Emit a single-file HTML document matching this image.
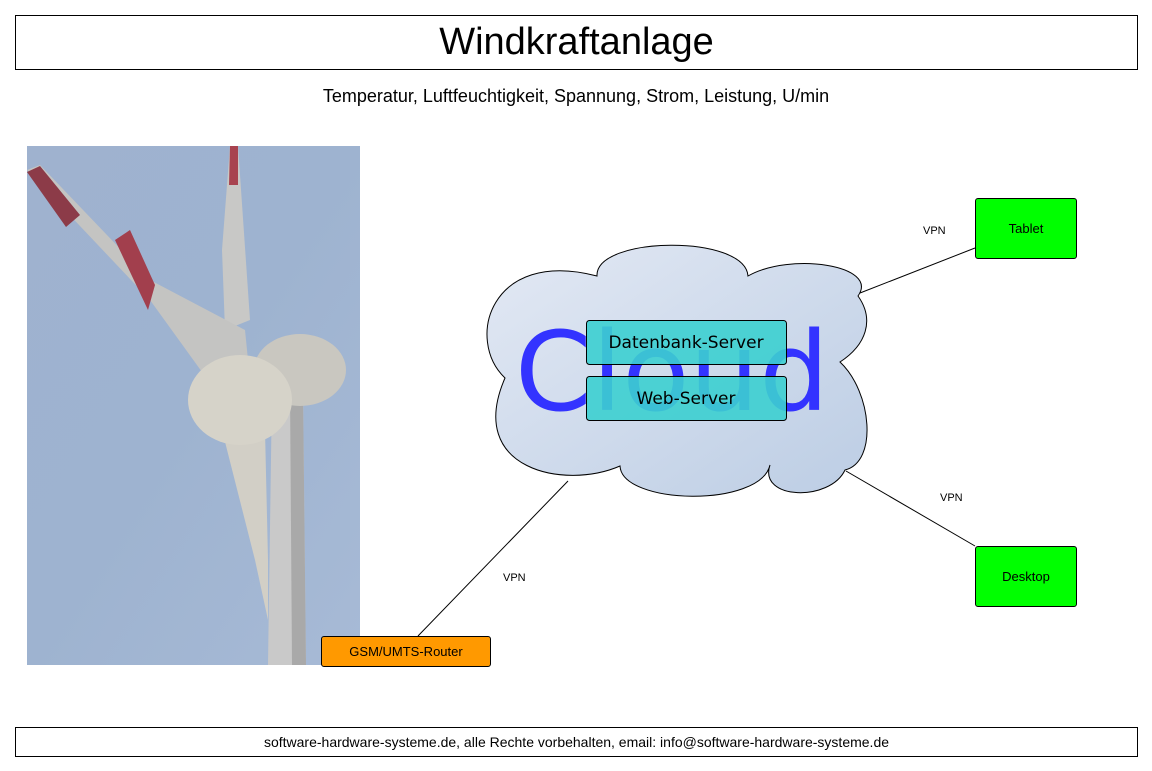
<!DOCTYPE html>
<html><head><meta charset="utf-8"><style>
body{margin:0;width:1152px;height:771px;background:#fff;position:relative;overflow:hidden;font-family:"Liberation Sans",sans-serif}
.b{position:absolute;box-sizing:border-box;border:1px solid #000;display:flex;align-items:center;justify-content:center;text-align:center}
.t{position:absolute;font-size:11px}
</style></head><body>
<div class="b" style="left:15px;top:15px;width:1123px;height:55px;font-size:38px">Windkraftanlage</div>
<div style="position:absolute;left:0;width:1152px;top:86px;text-align:center;font-size:18px">Temperatur, Luftfeuchtigkeit, Spannung, Strom, Leistung, U/min</div>
<svg style="position:absolute;left:0;top:0" width="1152" height="771">
<defs>
<linearGradient id="sky" x1="0" y1="0" x2="1" y2="1"><stop offset="0" stop-color="#9fb2cf"/><stop offset="0.5" stop-color="#9eb3d0"/><stop offset="1" stop-color="#a7bad6"/></linearGradient>
<linearGradient id="cl" x1="0" y1="0" x2="1" y2="1"><stop offset="0" stop-color="#e3e9f4"/><stop offset="1" stop-color="#bccde4"/></linearGradient>
</defs>
<rect x="27" y="146" width="333" height="519" fill="url(#sky)"/>
<path d="M272,390 L303,390 L306,665 L268,665 Z" fill="#c9c9c9"/>
<path d="M290,390 L303,390 L306,665 L292,665 Z" fill="#a9a9a9"/>
<path d="M222,430 L265,430 L268,560 L268,620 L255,560 Z" fill="#d2cfc6"/>
<path d="M230,146 L238,146 L250,320 L225,330 L222,250 Z" fill="#c8c8c6"/>
<path d="M230,146 L238,146 L238,185 L229,185 Z" fill="#a8434f"/>
<path d="M27,170 L40,165 L150,280 L245,330 L250,380 L215,390 L150,300 Z" fill="#c4c4c2"/>
<path d="M27,172 L40,166 L80,215 L66,227 Z" fill="#8c3b48"/>
<path d="M115,240 L130,230 L155,285 L148,310 Z" fill="#a23f4d"/>
<ellipse cx="300" cy="370" rx="46" ry="36" fill="#c9c7c0"/>
<ellipse cx="240" cy="400" rx="52" ry="45" fill="#d6d3c9"/>
<path d="M597,276 C595,236 745,234 748,276 C790,252 880,265 858,296 C875,320 866,345 840,362 C872,392 878,462 845,470 C830,502 758,500 770,465 C760,508 622,505 620,466 C565,490 465,470 505,378 C465,340 490,248 597,276 Z" fill="url(#cl)" stroke="#000" stroke-width="1"/>
<text x="672" y="410" font-family="DejaVu Sans,sans-serif" font-size="110" fill="#3333ff" text-anchor="middle">Cloud</text>
<rect x="586.5" y="320.5" width="200" height="44" rx="3" fill="#3ccfd0" fill-opacity="0.9" stroke="#000"/>
<rect x="586.5" y="376.5" width="200" height="44" rx="3" fill="#3ccfd0" fill-opacity="0.9" stroke="#000"/>
<text x="686" y="348" font-family="DejaVu Sans,sans-serif" font-size="17" text-anchor="middle">Datenbank-Server</text>
<text x="686" y="404" font-family="DejaVu Sans,sans-serif" font-size="17" text-anchor="middle">Web-Server</text>
<line x1="860" y1="293" x2="975" y2="248" stroke="#000"/>
<line x1="846" y1="471" x2="975" y2="546" stroke="#000"/>
<line x1="568" y1="481" x2="418" y2="636" stroke="#000"/>
</svg>
<div class="t" style="left:923px;top:225px">VPN</div>
<div class="t" style="left:940px;top:492px">VPN</div>
<div class="t" style="left:503px;top:572px">VPN</div>
<div class="b" style="left:975px;top:198px;width:102px;height:61px;background:#00ff00;border-radius:3px;font-size:13px">Tablet</div>
<div class="b" style="left:975px;top:546px;width:102px;height:61px;background:#00ff00;border-radius:3px;font-size:13px">Desktop</div>
<div class="b" style="left:321px;top:636px;width:170px;height:31px;background:#ff9900;border-radius:3px;font-size:13px">GSM/UMTS-Router</div>
<div class="b" style="left:15px;top:727px;width:1123px;height:30px;font-size:14px">software-hardware-systeme.de, alle Rechte vorbehalten, email: info@software-hardware-systeme.de</div>
</body></html>
